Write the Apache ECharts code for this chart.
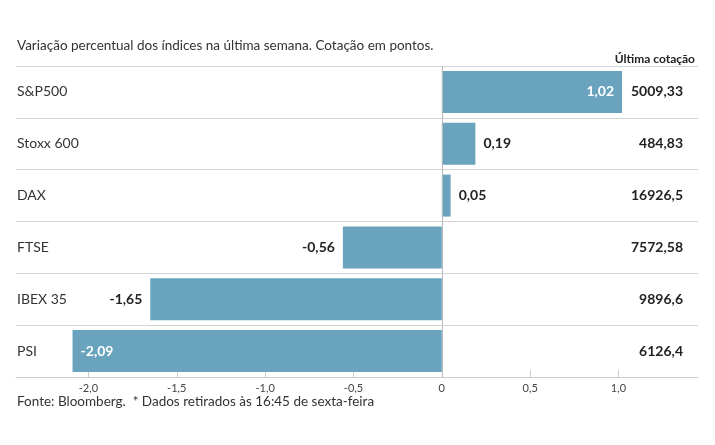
<!DOCTYPE html>
<html>
<head>
<meta charset="utf-8">
<script src="https://cdn.jsdelivr.net/npm/echarts@6/dist/echarts.min.js"></script>
<style>
  html, body { margin: 0; padding: 0; background: #fff; }
  #chart { width: 715px; height: 445px; }
</style>
</head>
<body>
<div id="chart"></div>
<script>
var indices = ['S&P500', 'Stoxx 600', 'DAX', 'FTSE', 'IBEX 35', 'PSI']
var variacao = [1.02, 0.19, 0.05, -0.56, -1.65, -2.09]
var cotacao = ['5009,33', '484,83', '16926,5', '7572,58', '9896,6', '6126,4']
var ticks = [-2.0, -1.5, -1.0, -0.5, 0, 0.5, 1.0]

var FONT = 'Lato'
var barColor = '#69a3be'

function fmt (v) {
  if (v === 0) return '0'
  return v.toFixed(1).replace('.', ',')
}

// rótulo dentro da barra só quando não cabe fora (junto à cotação ou aos nomes)
var barData = variacao.map(function (v) {
  var inside = v > 0.8 || v < -1.9
  var pos = v >= 0 ? (inside ? 'insideRight' : 'right') : (inside ? 'insideLeft' : 'left')
  return {
    value: v,
    label: {
      show: true,
      position: pos,
      distance: 8,
      color: inside ? '#fff' : '#222',
      fontFamily: FONT,
      fontWeight: 'bold',
      fontSize: 14,
      formatter: function () { return v.toFixed(2).replace('.', ',') }
    }
  }
})

var chart = echarts.init(document.getElementById('chart'))
chart.setOption({
  animation: false,
  title: [
    {
      text: 'Variação percentual dos índices na última semana. Cotação em pontos.',
      left: 12,
      top: 34,
      textStyle: { fontFamily: FONT, fontSize: 13.5, fontWeight: 'normal', color: '#333' }
    },
    {
      text: 'Última cotação',
      right: 15,
      top: 48,
      textStyle: { fontFamily: FONT, fontSize: 12, fontWeight: 'bold', color: '#222' }
    },
    {
      text: 'Fonte: Bloomberg.  * Dados retirados às 16:45 de sexta-feira',
      left: 12,
      top: 390,
      textStyle: { fontFamily: FONT, fontSize: 13.5, fontWeight: 'normal', color: '#333' }
    }
  ],
  grid: { left: 16, right: 17, top: 66, bottom: 68 },
  xAxis: {
    type: 'value',
    min: -2.41,
    max: 1.45,
    axisLine: { show: true, lineStyle: { color: '#ccc' } },
    axisTick: { show: true, inside: true, length: 7, customValues: ticks, lineStyle: { color: '#ccc' } },
    axisLabel: {
      customValues: ticks,
      margin: 6,
      fontFamily: FONT,
      fontSize: 11,
      color: '#444',
      formatter: fmt
    },
    splitLine: { show: false }
  },
  yAxis: [
    {
      type: 'category',
      inverse: true,
      data: indices,
      axisLine: { show: false },
      axisTick: { show: false },
      splitLine: { show: true, lineStyle: { color: '#d4d4d4' } },
      axisLabel: {
        inside: true,
        margin: 1,
        align: 'left',
        fontFamily: FONT,
        fontSize: 14,
        color: '#333'
      }
    },
    {
      type: 'category',
      inverse: true,
      position: 'right',
      data: cotacao,
      axisLine: { show: false },
      axisTick: { show: false },
      splitLine: { show: false },
      axisLabel: {
        inside: true,
        margin: 15,
        align: 'right',
        fontFamily: FONT,
        fontSize: 14,
        fontWeight: 'bold',
        color: '#222'
      }
    }
  ],
  series: [
    {
      type: 'bar',
      yAxisIndex: 0,
      data: barData,
      barWidth: 42,
      itemStyle: { color: barColor },
      markLine: {
        silent: true,
        symbol: 'none',
        label: { show: false },
        lineStyle: { color: '#bbb', type: 'solid', width: 1 },
        data: [{ xAxis: 0 }]
      }
    }
  ]
})
</script>
</body>
</html>
